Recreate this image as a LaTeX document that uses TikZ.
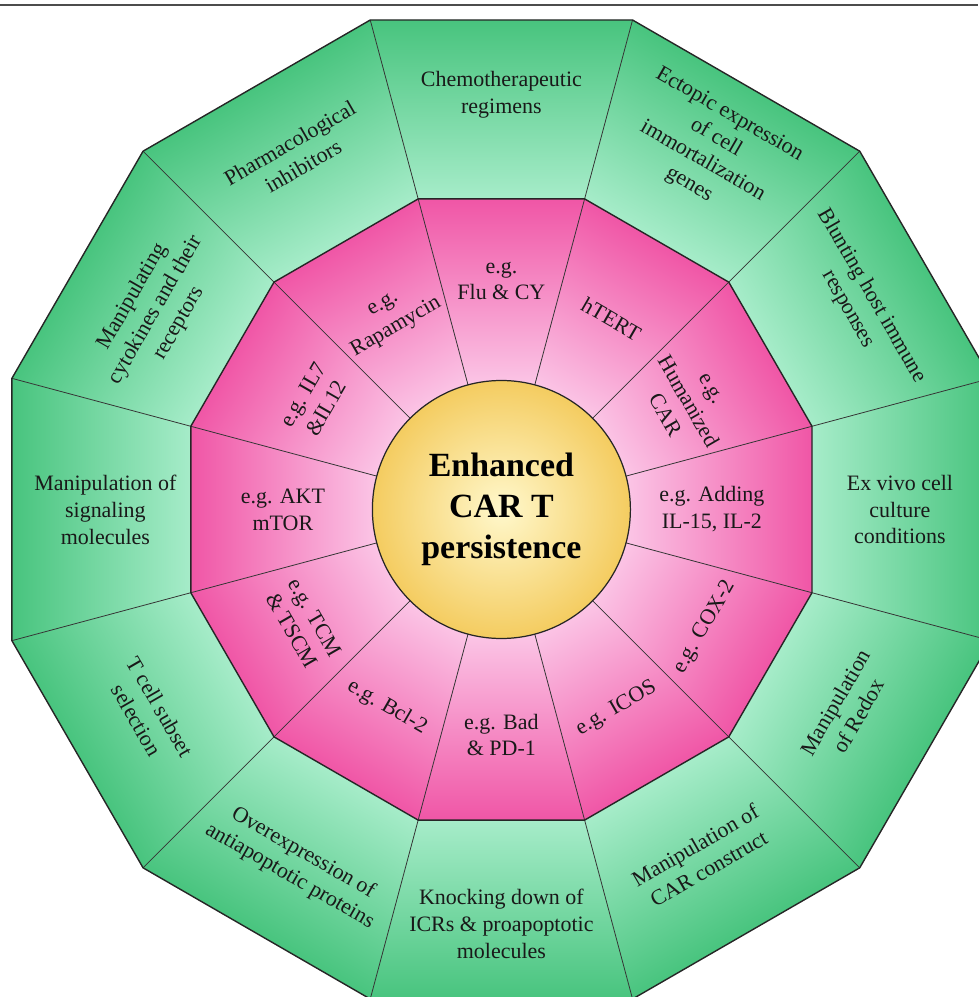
\documentclass[tikz,border=0pt]{standalone}
\usepackage{fontspec}
\setmainfont{Liberation Serif}
\usepackage{tikz}
\definecolor{ringgreen}{RGB}{72,196,126}
\definecolor{ringmint}{RGB}{166,236,201}
\definecolor{ringpink}{RGB}{240,86,166}
\definecolor{ringblush}{RGB}{252,206,235}
\definecolor{coregold}{RGB}{244,204,96}
\definecolor{corecream}{RGB}{255,248,204}

\begin{document}
\begin{tikzpicture}[x=1cm,y=1cm,
    ringtext/.style={font=\fontsize{12.5}{15.3}\selectfont,align=center,
                     text=black!90,inner sep=0pt}]
  \useasboundingbox (-10.028,-9.75) rectangle (9.532,10.19);
  \coordinate (rule-w) at (-10.028,10.09);
  \coordinate (rule-e) at (9.532,10.09);
  \draw[black!70,line width=1pt] (rule-w) -- (rule-e);

  \foreach \a in {0,30,...,330}{
    \begin{scope}[transform canvas={rotate=\a}]
      \shade[left color=ringmint,right color=ringgreen]
        (6.212,-1.6645) -- (9.79,-2.6232) -- (9.79,2.6232)
        -- (6.212,1.6645) -- cycle;
      \shade[left color=ringblush,right color=ringpink]
        (2.2,-0.5895) -- (6.212,-1.6645) -- (6.212,1.6645)
        -- (2.2,0.5895) -- cycle;
    \end{scope}
  }
  \foreach \a in {15,45,...,345}
    \draw[black!80,line width=0.45pt] (0,0) -- (\a:10.135);
  \draw[black!85,line width=0.8pt] (15:10.135)
    \foreach \a in {45,75,...,345}{ -- (\a:10.135)} -- cycle;
  \draw[black!85,line width=0.8pt] (15:6.431)
    \foreach \a in {45,75,...,345}{ -- (\a:6.431)} -- cycle;

  \node[circle,draw=black!85,line width=0.7pt,minimum size=5.16cm,
        inner color=corecream,outer color=coregold,
        font=\fontsize{19.3}{23.2}\selectfont\bfseries,align=center]
        (core) at (0,0) {Enhanced\\CAR T\\persistence};

  % outer ring
  \node[ringtext] (chemo) at (90:8.29) {Chemotherapeutic\\regimens};
  \node[ringtext,rotate=-30] (ectopic) at (60:8.31)
    {Ectopic expression\\of cell\\immortalization\\genes};
  \node[ringtext,rotate=-60] (blunting) at (30:8.28)
    {Blunting host immune\\responses};
  \node[ringtext] (exvivo) at (0:7.97) {Ex vivo cell\\culture\\conditions};
  \node[ringtext,rotate=60] (redox) at (-30:7.98) {Manipulation\\of Redox};
  \node[ringtext,rotate=30] (carcons) at (-60:8.02)
    {Manipulation of\\CAR construct};
  \node[ringtext] (knocking) at (-90:8.29)
    {Knocking down of\\ICRs \& proapoptotic\\molecules};
  \node[ringtext,rotate=-30] (antiapop) at (-120:8.2)
    {Overexpression of\\antiapoptotic proteins};
  \node[ringtext,rotate=-60] (subset) at (-150:8.15) {T cell subset\\selection};
  \node[ringtext] (signaling) at (180:7.92)
    {Manipulation of\\signaling\\molecules};
  \node[ringtext,rotate=60] (cytokines) at (150:7.98)
    {Manipulating\\cytokines and their\\receptors};
  \node[ringtext,rotate=30] (inhibitors) at (120:8.2)
    {Pharmacological\\inhibitors};

  % inner ring
  \node[ringtext] (flu) at (90:4.57) {e.g.\\Flu \& CY};
  \node[ringtext,rotate=-30] (htert) at (60:4.4) {hTERT};
  \node[ringtext,rotate=-60] (humanized) at (30:4.3) {e.g.\\Humanized\\CAR};
  \node[ringtext] (adding) at (0:4.21) {e.g. Adding\\IL-15, IL-2};
  \node[ringtext,rotate=60] (cox) at (-30:4.7) {e.g. COX-2};
  \node[ringtext,rotate=30] (icos) at (-60:4.6) {e.g. ICOS};
  \node[ringtext] (bad) at (-90:4.51) {e.g. Bad\\\& PD-1};
  \node[ringtext,rotate=-30] (bcl) at (-120:4.57) {e.g. Bcl-2};
  \node[ringtext,rotate=-60] (tcm) at (-150:4.57) {e.g. TCM\\\& TSCM};
  \node[ringtext] (akt) at (180:4.37) {e.g. AKT\\mTOR};
  \node[ringtext,rotate=60] (il) at (150:4.32) {e.g. IL7\\\&IL12};
  \node[ringtext,rotate=30] (rapamycin) at (120:4.45) {e.g.\\Rapamycin};
\end{tikzpicture}
\end{document}
